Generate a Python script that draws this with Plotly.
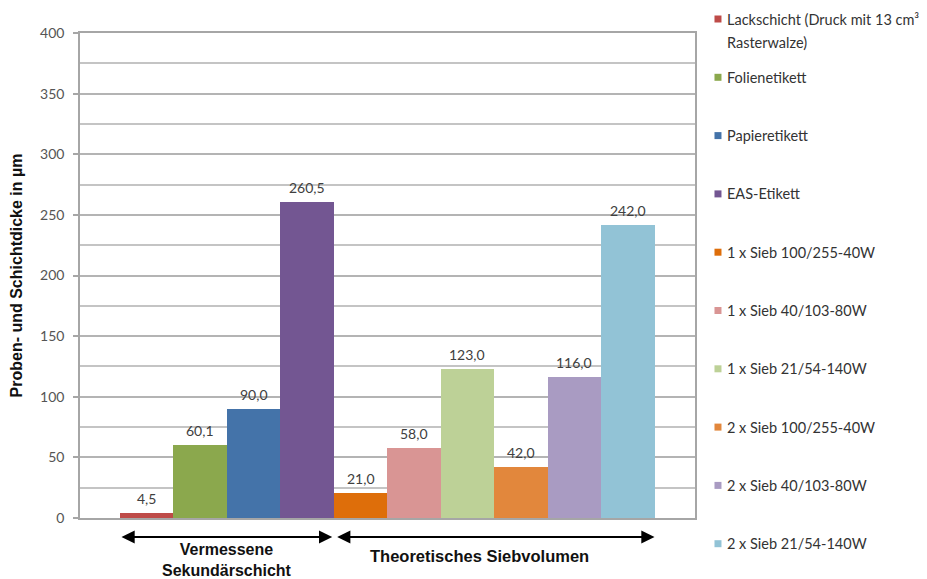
import plotly.graph_objects as go

# Series (one bar each) and measured / theoretical thickness in µm
series_names = [
    "Lackschicht (Druck mit 13 cm³<br>Rasterwalze)",
    "Folienetikett",
    "Papieretikett",
    "EAS-Etikett",
    "1 x Sieb 100/255-40W",
    "1 x Sieb 40/103-80W",
    "1 x Sieb 21/54-140W",
    "2 x Sieb 100/255-40W",
    "2 x Sieb 40/103-80W",
    "2 x Sieb 21/54-140W",
]
values = [4.5, 60.1, 90.0, 260.5, 21.0, 58.0, 123.0, 42.0, 116.0, 242.0]
colors = [
    "#BE4B48", "#8BA84D", "#4473A9", "#735692", "#DE6E0A",
    "#D99594", "#BDD197", "#E2873C", "#A99BC2", "#92C3D6",
]
group_labels = ["Vermessene<br>Sekundärschicht", "Theoretisches Siebvolumen"]
group_sizes = [4, 6]
y_title = "Proben- und Schichtdicke in µm"

# Page geometry (pixels)
FIG_W, FIG_H = 927, 579
L, R, T, B = 80, 695.5, 33, 518
PW, PH = R - L, B - T

def paper_x(px):
    return (px - L) / PW

def paper_y(py):
    return (B - py) / PH

LABEL_FONT = "Lato, 'Open Sans', sans-serif"
BOLD_FONT = "'Liberation Sans', Arial, sans-serif"

fig = go.Figure()
for i, (name, v, c) in enumerate(zip(series_names, values, colors)):
    fig.add_trace(go.Bar(
        x=[i], y=[v], width=1.0, name=name,
        marker=dict(color=c, line=dict(width=0)),
        showlegend=False,
    ))
    # value label above each bar
    fig.add_annotation(
        x=i, y=v, xref="x", yref="y", text=f"{v:.1f}".replace(".", ","),
        showarrow=False, yanchor="bottom", yshift=4,
        font=dict(family=LABEL_FONT, size=14, color="#404040"),
    )

# Double-headed arrows spanning each group of bars
arrow_y = paper_y(537)
start = -0.5
for gi, n in enumerate(group_sizes):
    end = start + n
    fig.add_annotation(
        x=end - 0.03 if gi == 0 else end, y=arrow_y, xref="x", yref="paper",
        ax=start + 0.035 if gi == 1 else start, ay=0, axref="x", ayref="pixel",
        text="", showarrow=True, arrowside="end+start",
        arrowhead=2, arrowsize=1.2, arrowwidth=2.2, arrowcolor="#000000",
    )
    start = end

fig.add_annotation(
    x=1.5, y=paper_y(560), xref="x", yref="paper", text=group_labels[0],
    showarrow=False, yanchor="middle",
    font=dict(family=BOLD_FONT, size=16, color="#111111", weight="bold"),
)
fig.add_annotation(
    x=6.23, y=paper_y(556), xref="x", yref="paper", text=group_labels[1],
    showarrow=False, yanchor="middle",
    font=dict(family=BOLD_FONT, size=16.5, color="#111111", weight="bold"),
)

# Legend drawn at the right with evenly spaced entries
LEG_TOP, LEG_STEP, LINE_STEP = 19, 58.3, 23
for i, (name, c) in enumerate(zip(series_names, colors)):
    cy = LEG_TOP + i * LEG_STEP
    fig.add_shape(
        type="rect", xref="paper", yref="paper",
        x0=paper_x(715), x1=paper_x(722), y0=paper_y(cy + 3.5), y1=paper_y(cy - 3.5),
        fillcolor=c, line=dict(width=0),
    )
    for k, line in enumerate(name.split("<br>")):
        fig.add_annotation(
            x=paper_x(726), y=paper_y(cy + k * LINE_STEP), xref="paper", yref="paper",
            text=line, showarrow=False, xanchor="left", yanchor="middle",
            font=dict(family=LABEL_FONT, size=14.5, color="#333333"),
        )

fig.update_layout(
    width=FIG_W, height=FIG_H,
    margin=dict(l=L, r=FIG_W - R, t=T, b=FIG_H - B, autoexpand=False),
    paper_bgcolor="white", plot_bgcolor="white",
    bargap=0, barmode="overlay",
    showlegend=False,
)
fig.update_xaxes(
    range=[-1.248, 10.257], showticklabels=False, ticks="",
    showgrid=False, zeroline=False,
    showline=True, linecolor="#A6A6A6", linewidth=1.5, mirror=True,
)
fig.update_yaxes(
    range=[0, 400], dtick=50, tick0=0,
    ticks="outside", ticklen=5, tickcolor="#A6A6A6", tickwidth=1.5,
    ticklabelstandoff=6,
    tickfont=dict(family=LABEL_FONT, size=14, color="#555555"),
    showgrid=True, gridcolor="#B4B4B4", gridwidth=1.5,
    minor=dict(dtick=25, showgrid=True, gridcolor="#C4C4C4", gridwidth=1.5),
    zeroline=False, showline=True, linecolor="#A6A6A6", linewidth=1.5, mirror=True,
    title=dict(text=y_title, standoff=13,
               font=dict(family=BOLD_FONT, size=16, color="#111111", weight="bold")),
    automargin=False,
)

fig.write_html("out.html")
